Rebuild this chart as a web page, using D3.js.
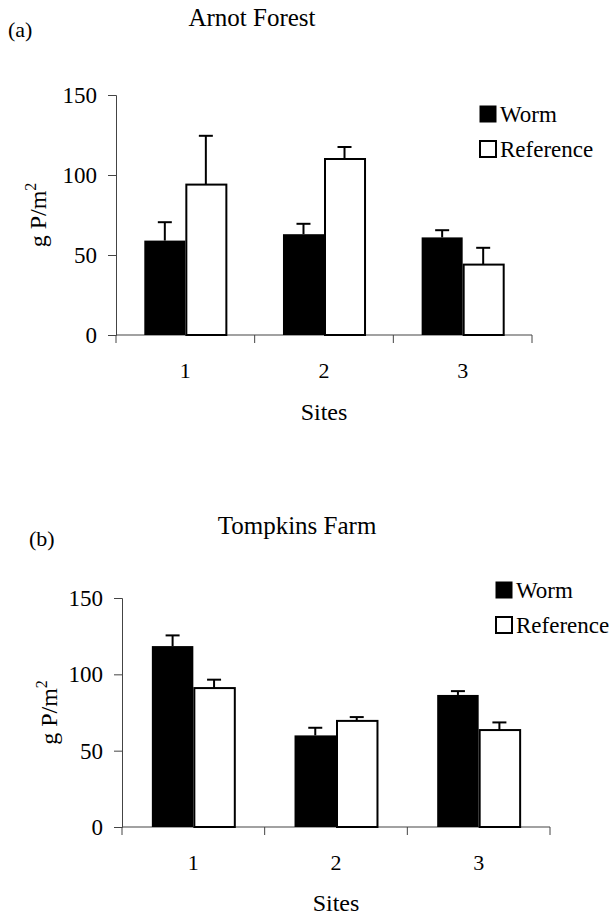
<!DOCTYPE html>
<html>
<head>
<meta charset="utf-8">
<script src="https://cdn.jsdelivr.net/npm/d3@7"></script>
<style>
  html, body { margin: 0; padding: 0; background: #fff; }
  svg { display: block; }
</style>
</head>
<body>
<svg id="chart" width="609" height="917" font-family="'Liberation Serif', 'Times New Roman', Times, serif"></svg>
<script>
// ---- data ----
const sites = ["1", "2", "3"];
const seriesNames = ["Worm", "Reference"];
const yTicks = [0, 50, 100, 150];

const arnotWorm = [59, 63, 61];
const arnotWormErr = [11.5, 6.5, 4.5];
const arnotRef = [94, 110, 44];
const arnotRefErr = [30.5, 7.5, 10.5];

const tompkinsWorm = [118.5, 60, 86.5];
const tompkinsWormErr = [7, 5, 2.5];
const tompkinsRef = [91, 69.5, 63.5];
const tompkinsRefErr = [5.5, 2.5, 5];

const FONT = "'Liberation Serif', 'Times New Roman', Times, serif";
const svg = d3.select("#chart");

function txt(sel, size) {
  return sel.style("font-family", FONT).style("font-size", size + "px").attr("fill", "#000");
}

function drawPanel(cfg) {
  const g = svg.append("g");
  const x0 = d3.scaleBand().domain(sites).range([cfg.left, cfg.right]).paddingInner(0).paddingOuter(0);
  const x1 = d3.scaleBand().domain(seriesNames).range([0, x0.bandwidth()]).paddingInner(0).paddingOuter(cfg.outer);
  const y = d3.scaleLinear().domain([0, 150]).range([cfg.bottom, cfg.top]);

  const rows = [];
  sites.forEach((s, i) => {
    rows.push({site: s, series: "Worm", v: cfg.worm[i], e: cfg.wormErr[i]});
    rows.push({site: s, series: "Reference", v: cfg.ref[i], e: cfg.refErr[i]});
  });

  // y axis
  const yAxis = d3.axisLeft(y).tickValues(yTicks).tickSize(8).tickPadding(11).tickFormat(d3.format("d"));
  const ya = g.append("g").attr("transform", `translate(${cfg.left},0)`).call(yAxis)
    .attr("font-family", FONT);
  ya.select(".domain").attr("stroke", "#444").attr("stroke-width", 1);
  ya.selectAll(".tick line").attr("stroke", "#444");
  txt(ya.selectAll(".tick text"), 23);

  // x axis baseline
  g.append("line").attr("x1", cfg.left).attr("x2", cfg.right)
    .attr("y1", y(0)).attr("y2", y(0)).attr("stroke", "#444").attr("stroke-width", 1.2);
  // boundary ticks
  const edges = sites.map(s => x0(s)).concat([x0(sites[sites.length - 1]) + x0.bandwidth()]);
  g.selectAll(".xt").data(edges).enter().append("line")
    .attr("x1", d => d).attr("x2", d => d)
    .attr("y1", y(0)).attr("y2", y(0) + 8)
    .attr("stroke", "#444").attr("stroke-width", 1);
  // x labels
  txt(g.selectAll(".xl").data(sites).enter().append("text")
    .attr("x", d => x0(d) + x0.bandwidth() / 2)
    .attr("y", cfg.xLabelY)
    .attr("text-anchor", "middle"), 22)
    .text(d => d);

  // bars
  g.selectAll(".bar").data(rows).enter().append("rect")
    .attr("x", d => x0(d.site) + x1(d.series) + (d.series === "Reference" ? 1 : 0))
    .attr("y", d => y(d.v))
    .attr("width", d => x1.bandwidth() - (d.series === "Reference" ? 1 : 0))
    .attr("height", d => y(0) - y(d.v))
    .attr("fill", d => d.series === "Worm" ? "#000" : "#fff")
    .attr("stroke", "#000")
    .attr("stroke-width", d => d.series === "Worm" ? 0 : 2);

  // error bars (upper only)
  const cx = d => x0(d.site) + x1(d.series) + x1.bandwidth() / 2;
  g.selectAll(".err").data(rows).enter().append("line")
    .attr("x1", cx).attr("x2", cx)
    .attr("y1", d => y(d.v)).attr("y2", d => y(d.v + d.e))
    .attr("stroke", "#000").attr("stroke-width", 2);
  g.selectAll(".cap").data(rows).enter().append("line")
    .attr("x1", d => cx(d) - 7).attr("x2", d => cx(d) + 7)
    .attr("y1", d => y(d.v + d.e)).attr("y2", d => y(d.v + d.e))
    .attr("stroke", "#000").attr("stroke-width", 2);

  // titles
  txt(g.append("text").attr("x", cfg.tagX).attr("y", cfg.tagY), 22).text(cfg.tag);
  txt(g.append("text").attr("x", cfg.titleX).attr("y", cfg.titleY).attr("text-anchor", "middle"), 25)
    .text(cfg.title);
  txt(g.append("text").attr("x", (cfg.left + cfg.right) / 2).attr("y", cfg.sitesY)
    .attr("text-anchor", "middle"), 24).text("Sites");

  // y title
  const yt = txt(g.append("text")
    .attr("transform", `translate(${cfg.yTitleX},${(cfg.top + cfg.bottom) / 2 + 0}) rotate(-90)`)
    .attr("text-anchor", "middle"), 24);
  yt.append("tspan").text("g P/m");
  yt.append("tspan").attr("dy", -10).style("font-size", "16px").text("2");

  // legend
  const lg = g.append("g").attr("transform", `translate(${cfg.legX},${cfg.legY})`);
  seriesNames.forEach((name, i) => {
    const row = lg.append("g").attr("transform", `translate(0,${i * 35})`);
    row.append("rect").attr("x", 1).attr("y", -16).attr("width", 16).attr("height", 16)
      .attr("fill", name === "Worm" ? "#000" : "#fff")
      .attr("stroke", "#000").attr("stroke-width", name === "Worm" ? 1 : 2);
    txt(row.append("text").attr("x", 21).attr("y", 0), 23).text(name);
  });
}

drawPanel({
  left: 116, right: 532, top: 95, bottom: 335, outer: 0.69,
  worm: arnotWorm, wormErr: arnotWormErr, ref: arnotRef, refErr: arnotRefErr,
  xLabelY: 378, sitesY: 420, tag: "(a)", tagX: 8, tagY: 37,
  title: "Arnot Forest", titleX: 252, titleY: 26, yTitleX: 46,
  legX: 479, legY: 122
});

drawPanel({
  left: 122, right: 550, top: 598, bottom: 827, outer: 0.72,
  worm: tompkinsWorm, wormErr: tompkinsWormErr, ref: tompkinsRef, refErr: tompkinsRefErr,
  xLabelY: 870, sitesY: 911, tag: "(b)", tagX: 29, tagY: 546,
  title: "Tompkins Farm", titleX: 297, titleY: 534, yTitleX: 57,
  legX: 495, legY: 598
});
</script>
</body>
</html>
